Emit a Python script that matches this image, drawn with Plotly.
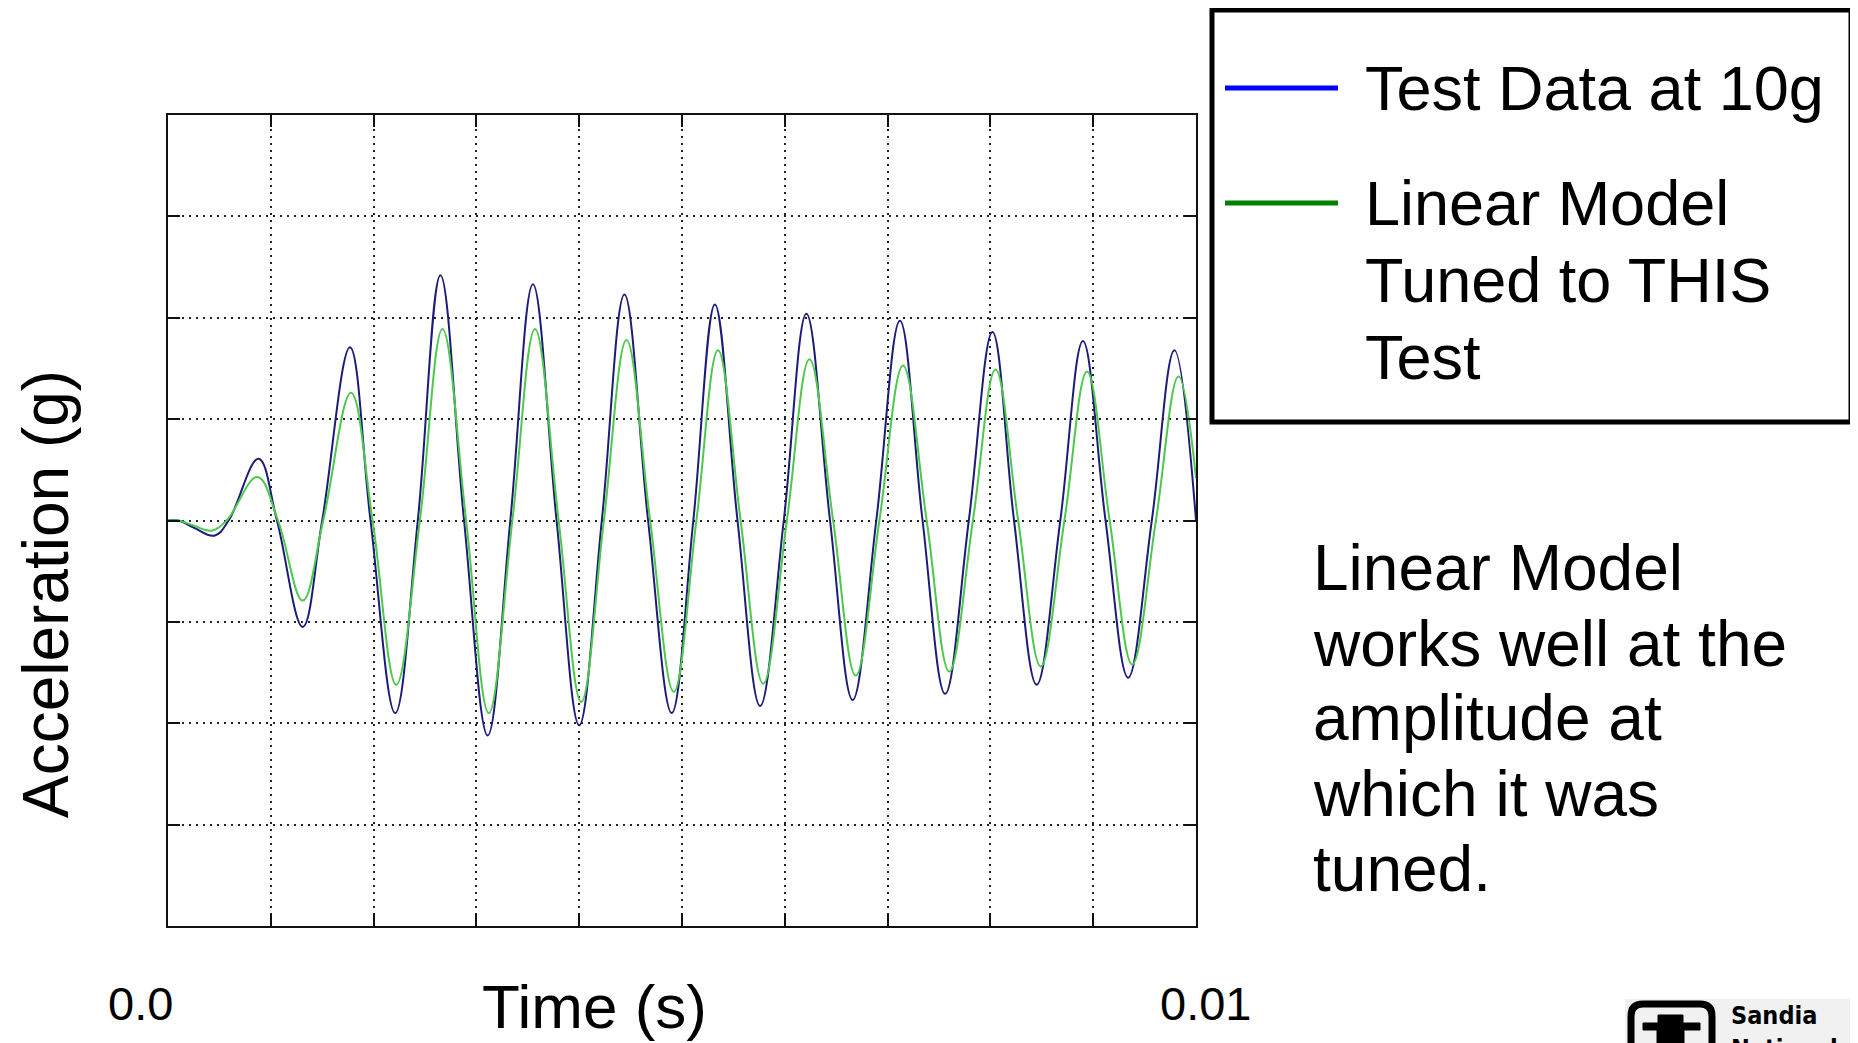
import plotly.graph_objects as go

# ---------------- data (time in ms, acceleration in grid units) ----------------
test_t_ms = [0.00, 0.10, 0.25, 0.45, 0.59, 0.88, 1.06, 1.31, 1.50, 1.77, 1.97, 2.21, 2.43, 2.65,
             2.88, 3.11, 3.33, 3.55, 3.78, 4.00, 4.22, 4.44, 4.67, 4.90, 5.11, 5.32, 5.54, 5.76,
             5.99, 6.21, 6.44, 6.66, 6.89, 7.12, 7.34, 7.56, 7.79, 8.02, 8.23, 8.45, 8.68, 8.90,
             9.12, 9.34, 9.57, 9.79, 10.00]
test_acc = [0.00, 0.00, -0.07, -0.15, 0.00, 0.61, 0.00, -1.05, 0.00, 1.71, 0.00, -1.90, 0.00, 2.42,
            0.00, -2.12, 0.00, 2.33, 0.00, -2.02, 0.00, 2.23, 0.00, -1.90, 0.00, 2.13, 0.00, -1.83,
            0.00, 2.04, 0.00, -1.77, 0.00, 1.97, 0.00, -1.71, 0.00, 1.86, 0.00, -1.62, 0.00, 1.77,
            0.00, -1.55, 0.00, 1.68, 0.00]

model_t_ms = [0.00, 0.10, 0.25, 0.42, 0.57, 0.87, 1.07, 1.31, 1.51, 1.78, 1.99, 2.22, 2.45, 2.67,
              2.90, 3.12, 3.35, 3.57, 3.80, 4.02, 4.24, 4.46, 4.69, 4.92, 5.14, 5.35, 5.57, 5.79,
              6.02, 6.24, 6.47, 6.69, 6.92, 7.15, 7.38, 7.60, 7.83, 8.05, 8.27, 8.49, 8.72, 8.94,
              9.16, 9.38, 9.61, 9.83, 10.00]
model_acc = [0.00, 0.00, -0.05, -0.10, 0.00, 0.43, 0.00, -0.79, 0.00, 1.26, 0.00, -1.62, 0.00, 1.89,
             0.00, -1.90, 0.00, 1.89, 0.00, -1.79, 0.00, 1.78, 0.00, -1.69, 0.00, 1.68, 0.00, -1.61,
             0.00, 1.59, 0.00, -1.53, 0.00, 1.53, 0.00, -1.49, 0.00, 1.49, 0.00, -1.44, 0.00, 1.47,
             0.00, -1.42, 0.00, 1.42, 0.42]

legend_labels = ["Test Data at 10g", "Linear Model", "Tuned to THIS", "Test"]
note_lines = ["Linear Model", "works well at the", "amplitude at", "which it was", "tuned."]
x_end_labels = ["0.0", "0.01"]
x_title = "Time (s)"
y_title = "Acceleration (g)"

# ---------------- layout geometry (page pixels; page body has an 8px margin) ----------------
OFF = 8
W, H = 1858 - OFF, 1043 - OFF
L, R, T, B = 168 - OFF, 1196 - OFF, 115 - OFF, 926 - OFF


def px(x):
    return (x - OFF - L) / (R - L)


def py(y):
    return (B - (y - OFF)) / (B - T)


FONT = "Liberation Sans, Arial, sans-serif"
NARROW = "Liberation Sans Narrow, Arial Narrow, DejaVu Sans Condensed, sans-serif"

fig = go.Figure()
fig.add_trace(go.Scatter(x=[t / 1000 for t in test_t_ms], y=test_acc, mode="lines",
                         line=dict(color="#1c1c78", width=2, shape="spline", smoothing=1.1),
                         name="Test Data at 10g", showlegend=False))
fig.add_trace(go.Scatter(x=[t / 1000 for t in model_t_ms], y=model_acc, mode="lines",
                         line=dict(color="#4cc84c", width=2, shape="spline", smoothing=1.1),
                         name="Linear Model", showlegend=False))

axis_common = dict(showline=True, mirror="ticks", linecolor="#111", linewidth=2,
                   ticks="inside", ticklen=12, tickwidth=2, tickcolor="#111",
                   showgrid=True, gridcolor="#222", gridwidth=1.5, griddash="2px,5px",
                   zeroline=False, showticklabels=False)

fig.update_xaxes(range=[0, 0.01], dtick=0.001, tick0=0, **axis_common)
fig.update_yaxes(range=[-4, 4], dtick=1, tick0=0, **axis_common)

shapes = []
annotations = []

# legend box
shapes.append(dict(type="rect", xref="paper", yref="paper",
                   x0=px(1212), x1=px(1851), y0=py(10), y1=py(422),
                   line=dict(color="black", width=5), fillcolor="white", layer="above"))
shapes.append(dict(type="line", xref="paper", yref="paper",
                   x0=px(1225), x1=px(1338), y0=py(88), y1=py(88),
                   line=dict(color="#0000ff", width=5)))
shapes.append(dict(type="line", xref="paper", yref="paper",
                   x0=px(1225), x1=px(1338), y0=py(203), y1=py(203),
                   line=dict(color="#008000", width=5)))
for label, ymid in zip(legend_labels, [88, 203, 280, 357]):
    annotations.append(dict(xref="paper", yref="paper", x=px(1363), y=py(ymid),
                            xanchor="left", yanchor="middle", showarrow=False, text=label,
                            font=dict(family=FONT, size=63, color="black")))

# note text
for line, ymid in zip(note_lines, [568, 644, 718, 794, 869]):
    annotations.append(dict(xref="paper", yref="paper", x=px(1311), y=py(ymid),
                            xanchor="left", yanchor="middle", showarrow=False, text=line,
                            font=dict(family=FONT, size=64, color="black")))

# axis titles and end labels
annotations.append(dict(xref="paper", yref="paper", x=px(46), y=py(594), textangle=-90,
                        xanchor="center", yanchor="middle", showarrow=False, text=y_title,
                        font=dict(family=FONT, size=64, color="black")))
annotations.append(dict(xref="paper", yref="paper", x=px(594), y=py(1006),
                        xanchor="center", yanchor="middle", showarrow=False, text=x_title,
                        font=dict(family=FONT, size=62, color="black")))
for lab, xc in zip(x_end_labels, [140, 1205]):
    annotations.append(dict(xref="paper", yref="paper", x=px(xc), y=py(1003),
                            xanchor="center", yanchor="middle", showarrow=False, text=lab,
                            font=dict(family=FONT, size=47, color="black")))

# Sandia logo (partial, bottom right)
shapes.append(dict(type="rect", xref="paper", yref="paper",
                   x0=px(1625), x1=px(1860), y0=py(999), y1=py(1045),
                   line=dict(width=0), fillcolor="#f1f1f1"))
shapes.append(dict(type="path", xref="paper", yref="paper",
                   path=(f"M {px(1631)},{py(1046)} L {px(1631)},{py(1016)} "
                         f"Q {px(1631)},{py(1004)} {px(1643)},{py(1004)} "
                         f"L {px(1700)},{py(1004)} Q {px(1712)},{py(1004)} {px(1712)},{py(1016)} "
                         f"L {px(1712)},{py(1046)}"),
                   line=dict(color="black", width=7)))
shapes.append(dict(type="path", xref="paper", yref="paper",
                   path=(f"M {px(1657)},{py(1046)} L {px(1657)},{py(1030)} L {px(1643)},{py(1030)} "
                         f"L {px(1643)},{py(1023)} L {px(1658)},{py(1023)} L {px(1658)},{py(1015)} "
                         f"L {px(1683)},{py(1015)} L {px(1683)},{py(1023)} L {px(1700)},{py(1023)} "
                         f"L {px(1700)},{py(1030)} L {px(1684)},{py(1030)} L {px(1684)},{py(1046)} Z"),
                   fillcolor="black", line=dict(color="black", width=1)))
annotations.append(dict(xref="paper", yref="paper", x=px(1729), y=py(999),
                        xanchor="left", yanchor="top", showarrow=False,
                        text="<b>Sandia</b><br><b>National</b>", align="left",
                        font=dict(family=NARROW, size=25, color="black")))

fig.update_layout(width=W, height=H, autosize=False,
                  margin=dict(l=L, r=W - R, t=T, b=H - B),
                  paper_bgcolor="white", plot_bgcolor="white",
                  shapes=shapes, annotations=annotations, showlegend=False)

fig.write_html("out.html", config={"displayModeBar": False})
